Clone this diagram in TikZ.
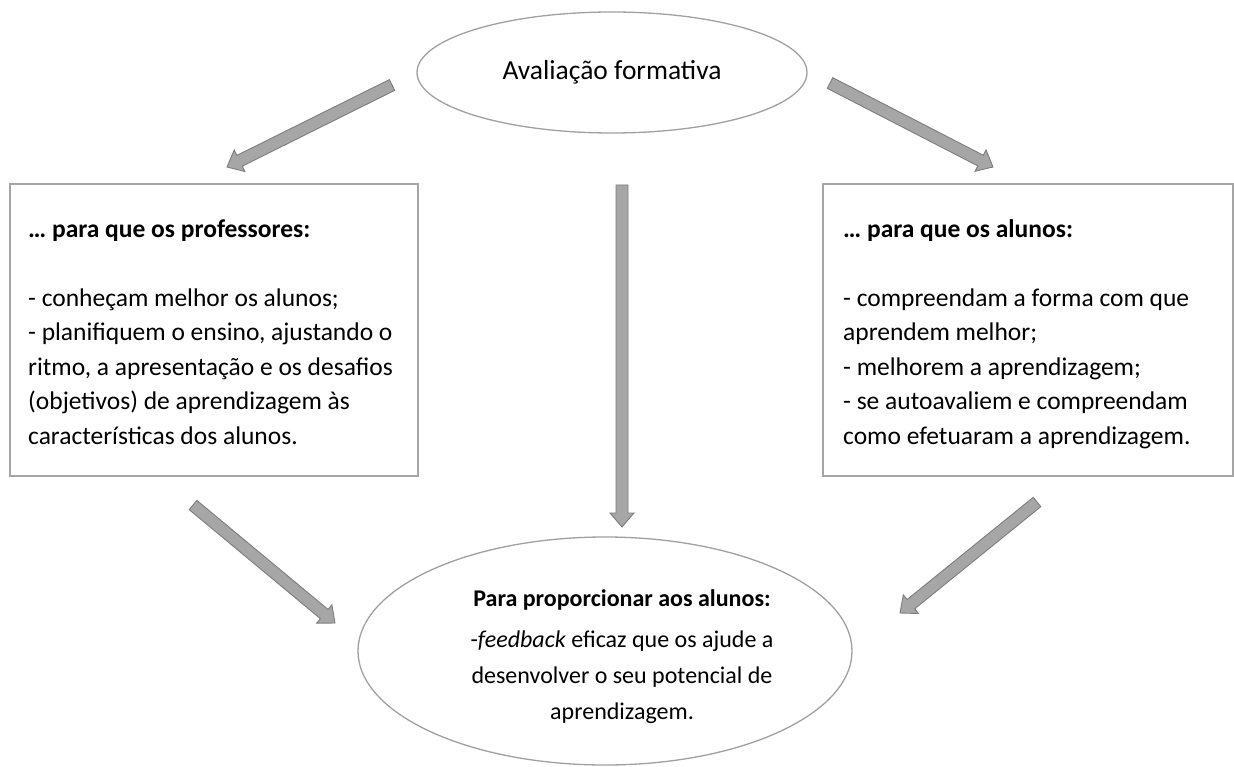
\documentclass[tikz,border=0pt]{standalone}
\usepackage{fontspec}
\setmainfont{Carlito}
\usetikzlibrary{shapes.geometric,calc}
\definecolor{arrfill}{RGB}{166,166,166}
\definecolor{arredge}{RGB}{125,125,125}
\definecolor{boxedge}{RGB}{165,165,165}
\definecolor{elledge}{RGB}{160,160,160}
\newcommand\blockarr[2]{%
  \coordinate (hb) at ($(#2)!14pt!(#1)$);
  \draw[barrow] ($(#1)!6pt!-90:(#2)$) -- ($(hb)!6pt!90:(#1)$) -- ($(hb)!12pt!90:(#1)$)
    -- (#2) -- ($(hb)!12pt!-90:(#1)$) -- ($(hb)!6pt!-90:(#1)$) -- ($(#1)!6pt!90:(#2)$) -- cycle;}
\begin{document}
\begin{tikzpicture}[x=1pt,y=-1pt,
  barrow/.style={fill=arrfill,draw=arredge,line width=0.9pt,line join=miter},
  boxshape/.style={draw=boxedge,line width=2pt,rectangle,inner sep=0pt},
  ell/.style={draw=elledge,line width=1.3pt,ellipse,inner sep=0pt},
  boxtext/.style={anchor=north west,inner sep=0pt,align=left,font=\fontsize{25.5}{34.5}\selectfont},
]
\fill[white] (0,0) rectangle (1234,767);
\useasboundingbox (0,0) rectangle (1234,767);

% top ellipse
\node[ell,minimum width=390pt,minimum height=121pt,font=\fontsize{27.5}{30}\selectfont] (top) at (612,72.5) {Avaliação formativa};

% boxes
\node[boxshape,minimum width=408pt,minimum height=292pt] (L) at (214,330) {};
\node[boxshape,minimum width=410pt,minimum height=292pt] (R) at (1028,330) {};

\node[boxtext] (Lt) at (28,213) {\strut\textbf{… para que os professores:}\\[34.5pt]
- conheçam melhor os alunos;\\
- planifiquem o ensino, ajustando o\\
ritmo, a apresentação e os desafios\\
(objetivos) de aprendizagem às\\
características dos alunos.};

\node[boxtext] (Rt) at (843,213) {\strut\textbf{… para que os alunos:}\\[34.5pt]
- compreendam a forma com que\\
aprendem melhor;\\
- melhorem a aprendizagem;\\
- se autoavaliem e compreendam\\
como efetuaram a aprendizagem.};

% bottom ellipse
\node[ell,minimum width=494pt,minimum height=228pt] (B) at (605,651) {};
\node[anchor=north,inner sep=0pt,align=center,font=\fontsize{24}{36}\selectfont] (Bt) at (622,581) {\strut\textbf{Para proporcionar aos alunos:}\\[5pt]
-\textit{feedback} eficaz que os ajude a\\
desenvolver o seu potencial de\\
aprendizagem.};

% arrows
\coordinate (a1s) at (392,85);  \coordinate (a1e) at (227,167);
\coordinate (a2s) at (830,83);  \coordinate (a2e) at (993,167);
\coordinate (a3s) at (622,185); \coordinate (a3e) at (622,527);
\coordinate (a4s) at (193,505); \coordinate (a4e) at (335,623);
\coordinate (a5s) at (1037,502);\coordinate (a5e) at (900,613);
\blockarr{a1s}{a1e}
\blockarr{a2s}{a2e}
\blockarr{a3s}{a3e}
\blockarr{a4s}{a4e}
\blockarr{a5s}{a5e}
\end{tikzpicture}
\end{document}
